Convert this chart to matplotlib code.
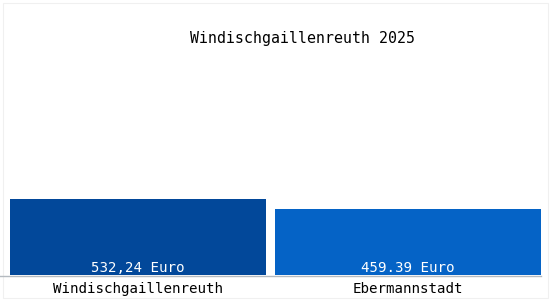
import matplotlib
matplotlib.use("Agg")
import matplotlib.pyplot as plt
from matplotlib.lines import Line2D
from matplotlib.patches import Rectangle

title = "Windischgaillenreuth 2025"
categories = ["Windischgaillenreuth", "Ebermannstadt"]
values = [532.24, 459.39]
value_labels = ["532,24 Euro", "459.39 Euro"]
colors = ["#02489a", "#0563c6"]

W, H = 550, 300
fig = plt.figure(figsize=(W / 100, H / 100), dpi=100)
fig.patch.set_facecolor("white")

ax_left, ax_right, ax_bottom, ax_top = 10, 541, 275, 20
ax = fig.add_axes([ax_left / W, (H - ax_bottom) / H, (ax_right - ax_left) / W, (ax_bottom - ax_top) / H])
ax.set_facecolor("white")
for s in ax.spines.values():
    s.set_visible(False)

unit = (ax_right - ax_left) / 2.0
lefts = [0.0, (275 - ax_left) / unit]
widths = [(266 - 10) / unit, (541 - 275) / unit]
ax.bar(lefts, values, width=widths, align="edge", color=colors, linewidth=0)
ax.set_xlim(0, 2.0)
ymax = values[0] * (ax_bottom - ax_top) / (ax_bottom - 199)
ax.set_ylim(0, ymax)
ax.set_yticks([])

mono = "DejaVu Sans Mono"
centers = [l + w / 2 for l, w in zip(lefts, widths)]
for c, v, lab in zip(centers, values, value_labels):
    ax.text(c, 0, lab, ha="center", va="bottom", color="white", fontsize=10.2, family=mono)

ax.set_xticks(centers)
ax.set_xticklabels(categories, family=mono, fontsize=10.2)
ax.tick_params(axis="x", length=0, pad=5)

fig.text(302 / W, 1 - 38 / H, title, ha="center", va="center", fontsize=10.7, family=mono)

fig.add_artist(Line2D([0, 541 / W], [(H - 275.5) / H] * 2, color="#b4bac0", lw=1, transform=fig.transFigure))
fig.add_artist(Rectangle((2.5 / W, 2.5 / H), (W - 5) / W, (H - 5) / H, fill=False, edgecolor="#f0f0f0", lw=0.8, transform=fig.transFigure))

fig.savefig("out.png", dpi=100)
